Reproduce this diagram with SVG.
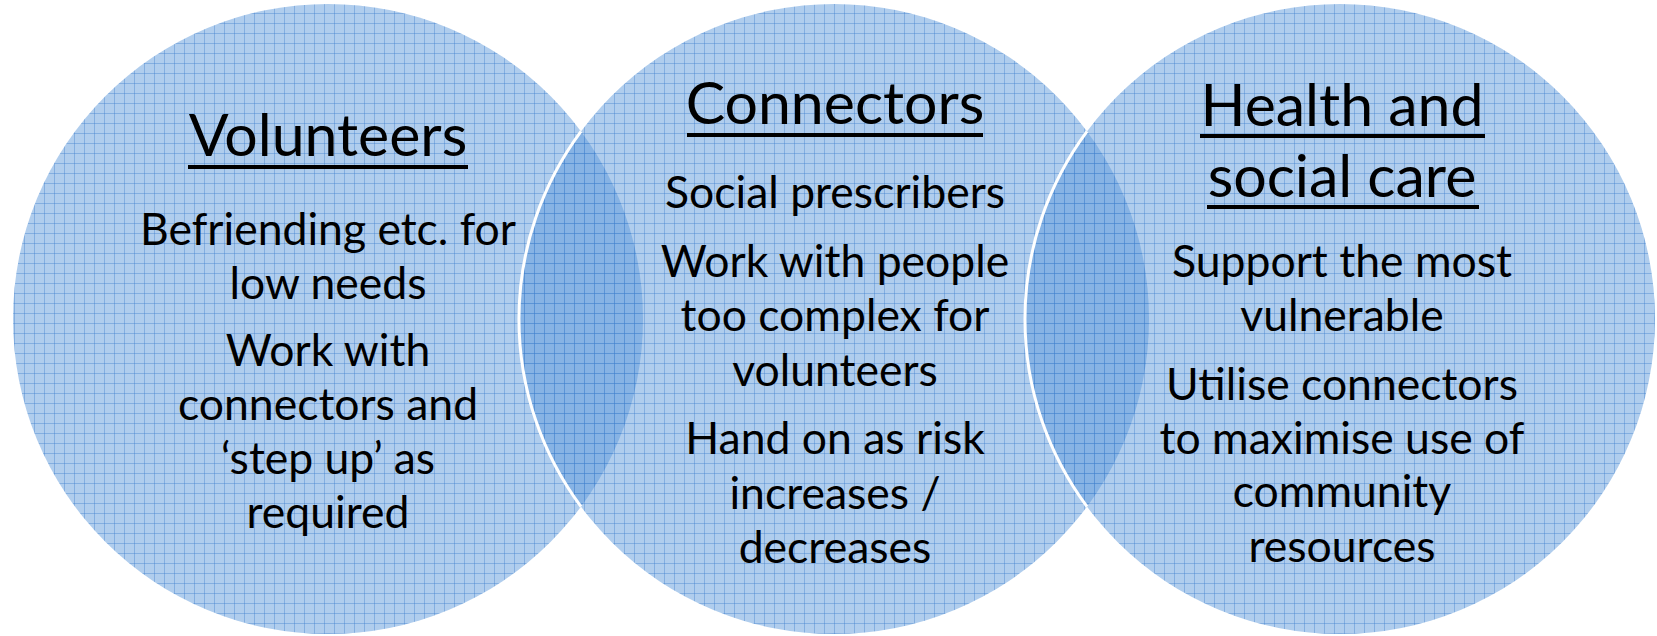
<svg xmlns="http://www.w3.org/2000/svg" width="1657" height="636" viewBox="0 0 1657 636">
<defs>
<pattern id="grid" patternUnits="userSpaceOnUse" x="4" y="3" width="10" height="10">
<rect width="10" height="10" fill="#5a96d8" fill-opacity="0.48"/>
<path d="M0.5,0 V10 M0,0.5 H10" stroke="#3a7bcc" stroke-opacity="0.38" stroke-width="1" fill="none"/>
</pattern>
</defs>
<style>
.c{fill:url(#grid);}
.edge{fill:none;stroke:#ffffff;stroke-width:3;}
text{font-family:Lato,"Liberation Sans",sans-serif;fill:#000;text-anchor:middle;}
.t{font-size:59px;}
.b{font-size:44.5px;}
.u{fill:#000;}
</style>
<rect width="1657" height="636" fill="#ffffff"/>
<g id="volunteers">
<circle class="c" cx="328" cy="319" r="315"/>
<text class="t" x="328" y="156">Volunteers</text>
<rect class="u" x="188" y="165" width="280" height="4"/>
<text class="b" x="328" y="245">Befriending etc. for</text>
<text class="b" x="328" y="299">low needs</text>
<text class="b" x="328" y="366">Work with</text>
<text class="b" x="328" y="420">connectors and</text>
<text class="b" x="328" y="474">‘step up’ as</text>
<text class="b" x="328" y="528">required</text>
</g>
<g id="connectors">
<circle class="c" cx="834" cy="319" r="315"/>
<path class="edge" d="M581,131.3 A315,315 0 0,0 581,506.7"/>
<text class="t" x="835" y="124">Connectors</text>
<rect class="u" x="687" y="133" width="296" height="4"/>
<text class="b" x="835" y="208">Social prescribers</text>
<text class="b" x="835" y="277">Work with people</text>
<text class="b" x="835" y="331">too complex for</text>
<text class="b" x="835" y="386">volunteers</text>
<text class="b" x="835" y="454">Hand on as risk</text>
<text class="b" x="835" y="509">increases /</text>
<text class="b" x="835" y="563">decreases</text>
</g>
<g id="health-social-care">
<circle class="c" cx="1340" cy="319" r="315"/>
<path class="edge" d="M1087,131.3 A315,315 0 0,0 1087,506.7"/>
<text class="t" x="1342" y="126">Health and</text>
<rect class="u" x="1200" y="134" width="285" height="4"/>
<text class="t" x="1342" y="197">social care</text>
<rect class="u" x="1207" y="205" width="272" height="4"/>
<text class="b" x="1342" y="277">Support the most</text>
<text class="b" x="1342" y="331">vulnerable</text>
<text class="b" x="1342" y="400">Utilise connectors</text>
<text class="b" x="1342" y="454">to maximise use of</text>
<text class="b" x="1342" y="507">community</text>
<text class="b" x="1342" y="562">resources</text>
</g>
<g id="connectors-lines"></g>
</svg>
